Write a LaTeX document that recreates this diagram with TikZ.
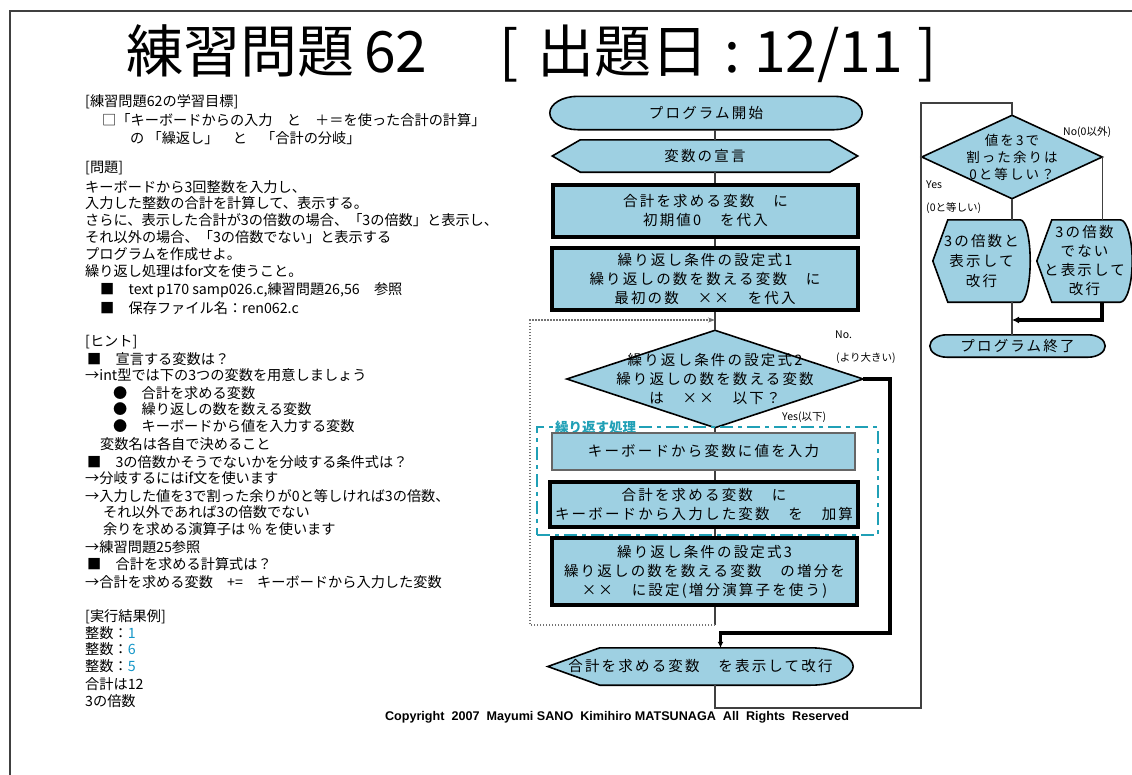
\documentclass[tikz,border=0pt]{standalone}
\usepackage{fontspec}
\usetikzlibrary{arrows.meta,backgrounds}
\setmainfont{Noto Sans CJK JP}
\newfontfamily\jp{Noto Sans CJK JP}
\newfontfamily\jpf[LetterSpace=15]{Noto Sans CJK JP}
\newfontfamily\cpr{Liberation Sans}
\definecolor{fcol}{RGB}{158,208,226}
\definecolor{cy}{RGB}{32,160,182}
\definecolor{res}{RGB}{20,150,200}
\newcommand{\termpath}[3]{\path[shp] ([xshift=#2]#1.north west) -- ([xshift=-#2]#1.north east) .. controls ([xshift=-0.448*#2]#1.north east) and ([yshift=0.552*#3]#1.east) .. (#1.east) .. controls ([yshift=-0.552*#3]#1.east) and ([xshift=-0.448*#2]#1.south east) .. ([xshift=-#2]#1.south east) -- ([xshift=#2]#1.south west) .. controls ([xshift=0.448*#2]#1.south west) and ([yshift=-0.552*#3]#1.west) .. (#1.west) .. controls ([yshift=0.552*#3]#1.west) and ([xshift=0.448*#2]#1.north west) .. ([xshift=#2]#1.north west) -- cycle;}
\newcommand{\disppath}[4]{\path[shp] (#1.west) -- ([xshift=#2]#1.north west) -- ([xshift=-#3]#1.north east) .. controls ([xshift=-0.448*#3]#1.north east) and ([yshift=0.552*#4]#1.east) .. (#1.east) .. controls ([yshift=-0.552*#4]#1.east) and ([xshift=-0.448*#3]#1.south east) .. ([xshift=-#3]#1.south east) -- ([xshift=#2]#1.south west) -- cycle;}
\begin{document}
\begin{tikzpicture}[x=1pt,y=-1pt,
 box/.style={rectangle, inner sep=0pt, align=center, font=\jpf\fontsize{14.5}{19}\selectfont},
 shp/.style={fill=fcol, draw=black, line width=1.6pt},
 proc/.style={box, draw=black, line width=4pt, fill=fcol},
 proct/.style={box, draw=black!60, line width=2.2pt, fill=fcol},
 conn/.style={draw=black!75, line width=1.3pt},
 thk/.style={draw=black, line width=3.6pt},
 loopl/.style={draw=black!55, line width=1.3pt, dash pattern=on 1.5pt off 1.5pt},
 lbl/.style={font=\jp\fontsize{10.5}{12}\selectfont, inner sep=0pt, anchor=west},
 ltxt/.style={font=\jp\fontsize{14.2}{17}\selectfont, inner sep=0pt, anchor=west},
 grp/.style={draw=cy, line width=2.8pt, dash pattern=on 13pt off 5pt on 4pt off 5pt}
]
\useasboundingbox (0,0) rectangle (1132,774);
\draw[black!75, line width=2.4pt] (10,776) -- (10,11) -- (1134,11);

% title
\node[font=\jp\fontsize{57}{60}\selectfont, anchor=west, inner sep=0pt] (title) at (126,54) {練習問題\hspace{10pt}62\hspace{72pt}[\hspace{19pt}出題日\hspace{3pt} :\hspace{-3pt} 12/11\hspace{14pt}]};

% left text
\foreach \xx/\yy/\tx in {
 85/102/{[練習問題62の学習目標]},
 102/120/{□「キーボードからの入力　と　＋＝を使った合計の計算」},
 130/138/{の 「繰返し」　と　「合計の分岐」},
 85/168/{[問題]},
 85/187/{キーボードから3回整数を入力し、},
 85/203/{入力した整数の合計を計算して、表示する。},
 85/220/{さらに、表示した合計が3の倍数の場合、「3の倍数」と表示し、},
 85/237/{それ以外の場合、「3の倍数でない」と表示する},
 85/254/{プログラムを作成せよ。},
 85/271/{繰り返し処理はfor文を使うこと。},
 100/290/{■　text p170 samp026.c,練習問題26,56　参照},
 100/308/{■　保存ファイル名：ren062.c},
 85/342/{[ヒント]},
 87/359/{■　宣言する変数は？},
 85/375/{→int型では下の3つの変数を用意しましょう},
 113/393/{●　合計を求める変数},
 113/409/{●　繰り返しの数を数える変数},
 113/426/{●　キーボードから値を入力する変数},
 100/444/{変数名は各自で決めること},
 87/462/{■　3の倍数かそうでないかを分岐する条件式は？},
 85/478/{→分岐するにはif文を使います},
 85/496/{→入力した値を3で割った余りが0と等しければ3の倍数、},
 103/512/{それ以外であれば3の倍数でない},
 103/529/{余りを求める演算子は \% を使います},
 85/547/{→練習問題25参照},
 87/564/{■　合計を求める計算式は？},
 85/582/{→合計を求める変数　+=　キーボードから入力した変数},
 85/617/{[実行結果例]},
 85/633/{整数：\textcolor{res}{1}},
 85/649/{整数：\textcolor{res}{6}},
 85/666/{整数：\textcolor{res}{5}},
 85/684/{合計は12},
 85/701/{3の倍数}}
 \node[ltxt] at (\xx,\yy) {\tx};

% main flow
\node[box, minimum width=312pt, minimum height=33pt] (start) at (706,113) {プログラム開始};
\node[box, minimum width=305pt, minimum height=32pt] (decl) at (705,156) {変数の宣言};
\node[proc, minimum width=305pt, minimum height=52pt] (init) at (705.5,211) {合計を求める変数　に\\初期値0　を代入};
\node[proc, minimum width=306pt, minimum height=62pt] (set1) at (705,279) {繰り返し条件の設定式1\\繰り返しの数を数える変数　に\\最初の数　××　を代入};
\node[box, minimum width=296pt, minimum height=97pt] (dec) at (715,379) {繰り返し条件の設定式2\\繰り返しの数を数える変数\\は　××　以下？};
\node[grp, minimum width=341pt, minimum height=108pt] (grpbox) at (707.5,481) {};
\node[font=\jp\bfseries\fontsize{13.5}{14}\selectfont, text=cy, fill=white, inner sep=2pt, anchor=west] (grplbl) at (553,427) {繰り返す処理};
\node[proct, minimum width=303pt, minimum height=37pt] (input) at (703.5,451.5) {キーボードから変数に値を入力};
\node[proc, minimum width=308pt, minimum height=45pt] (add) at (704,504.5) {合計を求める変数　に\\キーボードから入力した変数　を　加算};
\node[proc, minimum width=305pt, minimum height=67pt] (set3) at (704.5,571.5) {繰り返し条件の設定式3\\繰り返しの数を数える変数　の増分を\\××　に設定(増分演算子を使う)};
\node[box, minimum width=305pt, minimum height=37pt] (disp) at (700.5,666.5) {合計を求める変数　を表示して改行};

% right flow
\node[box, font=\jpf\fontsize{13.5}{17}\selectfont, minimum width=180pt, minimum height=83pt] (rdec) at (1012,157) {値を3で\\割った余りは\\0と等しい？};
\node[box, font=\jpf\fontsize{14.5}{20}\selectfont, minimum width=97pt, minimum height=82pt] (ryes) at (981.5,261) {3の倍数と\\表示して\\改行};
\node[box, font=\jpf\fontsize{14.5}{19}\selectfont, minimum width=95pt, minimum height=82pt] (rno) at (1084.5,261) {3の倍数\\でない\\と表示して\\改行};
\node[box, minimum width=175pt, minimum height=22pt] (endn) at (1017.5,346) {プログラム終了};

% labels
\node[lbl] (lno) at (835,335) {No.};
\node[lbl] (lno2) at (836,358) {(より大きい)};
\node[lbl] (lyes) at (782,417) {Yes(以下)};
\node[lbl] (rlno) at (1063,132) {No(0以外)};
\node[lbl] (rlyes) at (926,185) {Yes};
\node[lbl] (rlyes2) at (926,208) {(0と等しい)};

\node[font=\cpr\bfseries\fontsize{12.6}{14}\selectfont, inner sep=0pt] (copy) at (617,717) {Copyright\ \ 2007\ \ Mayumi SANO\ \ Kimihiro MATSUNAGA\ \ All\ \ Rights\ \ Reserved};

% coordinates
\coordinate (lb) at (530,625);
\coordinate (lt) at (530,320);
\coordinate (lm) at (715,320);
\coordinate (nr) at (890,633);
\coordinate (rb) at (921,708);
\coordinate (rt) at (921,103);
\coordinate (mg) at (1012,320);

% connectors
\draw[conn] (start.south -| dec.north) -- (decl.north -| dec.north);
\draw[conn] (decl.south -| dec.north) -- (init.north -| dec.north);
\draw[conn] (init.south -| dec.north) -- (set1.north -| dec.north);
\draw[conn] (set1.south -| dec.north) -- (dec.north);
\draw[conn] (dec.south) -- (dec.south |- input.north);
\draw[conn] (input.south -| dec.south) -- (add.north -| dec.south);
\draw[conn] (add.south -| dec.south) -- (set3.north -| dec.south);
\draw[conn] (set3.south -| dec.south) -- (lb -| dec.south);
\draw[loopl, -{Stealth[length=7pt,width=5pt]}] (lb -| dec.south) -- (lb) -- (lt) -- (lm);
\draw[thk, -{Latex[length=6pt,width=6pt]}] (dec.east) -| (nr) -| ([xshift=20pt]disp.north);
\draw[conn] (disp.south -| dec.south) |- (rb) -- (rt) -| (rdec.north);
\draw[conn] (rdec.east) -- (rdec.east |- rno.north);
\draw[conn] (rdec.south) -- (rdec.south |- ryes.north);
\draw[conn] (ryes.south -| rdec.south) -- (endn.north -| rdec.south);
\draw[thk, -{Latex[length=7pt,width=7pt]}] (rno.south -| rdec.east) |- (mg);

\begin{scope}[on background layer]
\fill[white] (0,0) rectangle (1132,774);
\termpath{start}{28pt}{16.5pt}
\path[shp] (decl.west) -- ([xshift=28pt]decl.north west) -- ([xshift=-28pt]decl.north east) -- (decl.east) -- ([xshift=-28pt]decl.south east) -- ([xshift=28pt]decl.south west) -- cycle;
\path[shp] (dec.west) -- (dec.north) -- (dec.east) -- (dec.south) -- cycle;
\disppath{disp}{52pt}{43pt}{18.5pt}
\path[shp] (rdec.west) -- (rdec.north) -- (rdec.east) -- (rdec.south) -- cycle;
\disppath{ryes}{15pt}{10pt}{41pt}
\disppath{rno}{15pt}{12pt}{41pt}
\termpath{endn}{17pt}{11pt}
\end{scope}
\end{tikzpicture}
\end{document}
